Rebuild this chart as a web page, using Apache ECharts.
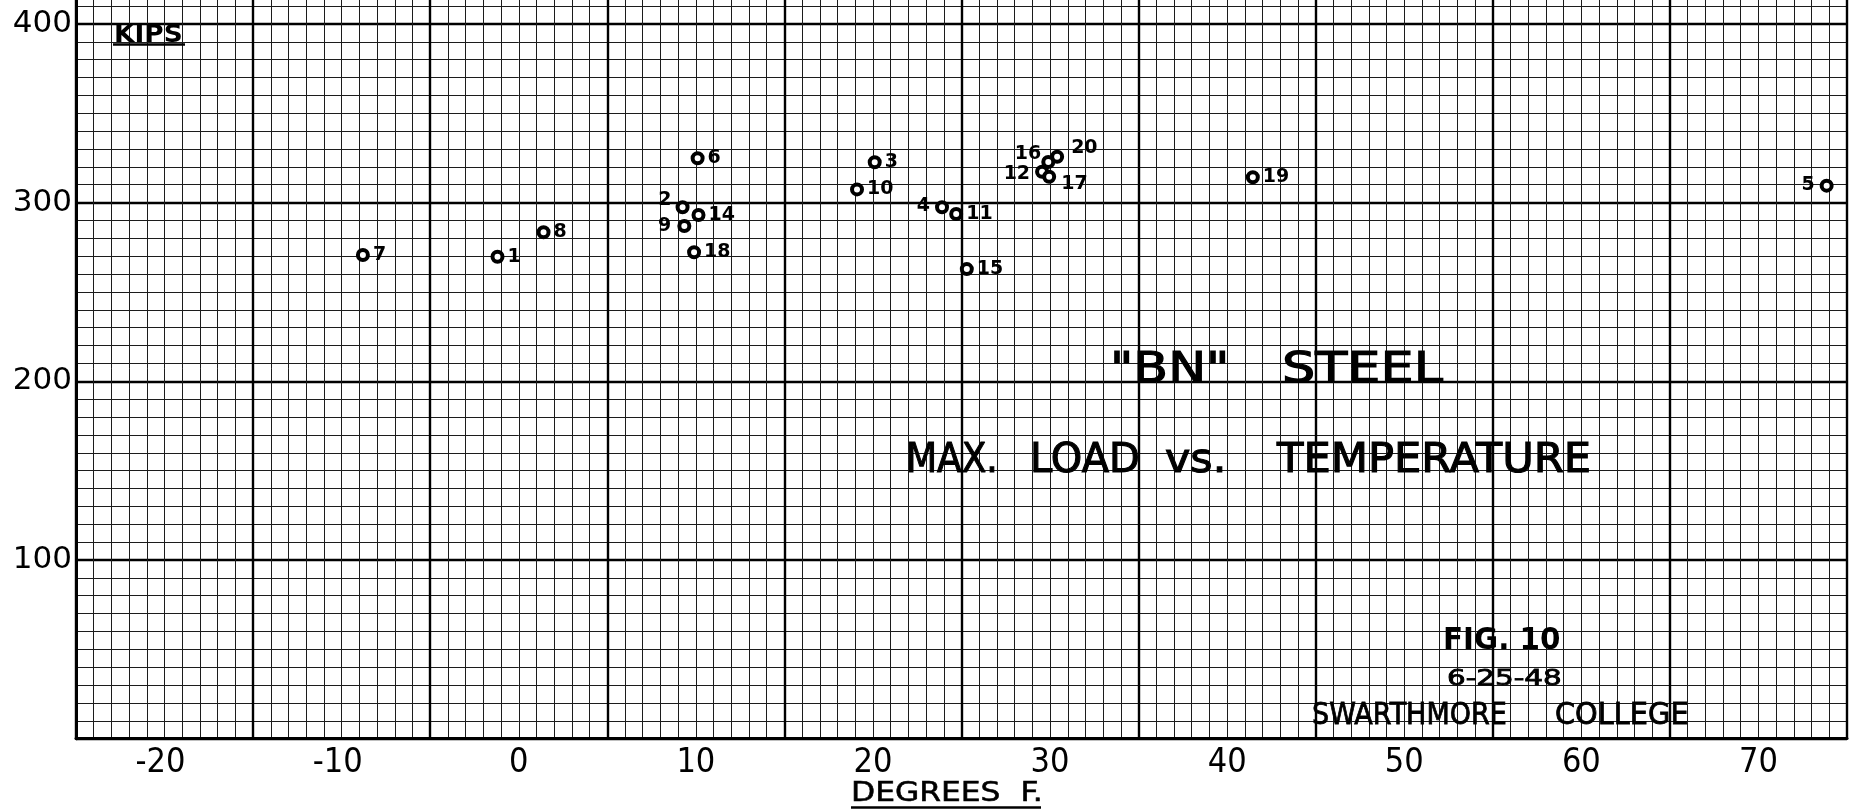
<!DOCTYPE html>
<html>
<head>
<meta charset="utf-8">
<script src="https://cdn.jsdelivr.net/npm/echarts@6/dist/echarts.min.js"></script>
<style>
  html, body { margin: 0; padding: 0; background: #fff; }
  #chart { width: 1849px; height: 810px; }
</style>
</head>
<body>
<div id="chart"></div>
<script>
// ---- data ----
const specimens    = ['7', '1', '8', '6', '2', '14', '9', '18', '3', '10', '4', '11', '15', '20', '16', '12', '17', '19', '5'];
const temperatures = [-8.8, -1.2, 1.4, 10.1, 9.25, 10.15, 9.35, 9.9, 20.1, 19.1, 23.9, 24.7, 25.3, 30.4, 29.9, 29.55, 29.95, 41.45, 73.85];
const maxLoads     = [270.7, 269.7, 283.4, 324.8, 297.4, 293.1, 286.9, 272.2, 322.6, 307.4, 297.4, 293.6, 262.8, 325.7, 322.7, 317.3, 314.5, 314.2, 309.5];

const xTickLabels = [-20, -10, 0, 10, 20, 30, 40, 50, 60, 70];
const yTickLabels = [100, 200, 300, 400];

// label placement per specimen (style only)
const labelPlacement = {
  '2':  { position: 'left',  offset: [-1, -7] },
  '9':  { position: 'left',  offset: [-3, 0] },
  '4':  { position: 'left',  offset: [-2, -1] },
  '5':  { position: 'left',  offset: [-2, -1] },
  '12': { position: 'left',  offset: [-2, 2] },
  '16': { position: 'left',  offset: [3, -8] },
  '20': { position: 'right', offset: [4, -9] },
  '17': { position: 'right', offset: [2, 7] }
};

const FONT = '"DejaVu Sans"';
const COND = '"DejaVu Sans Condensed", "DejaVu Sans"';

const X_MIN = -25, X_MAX = 75, Y_MIN = 0, Y_MAX = 414.5;

const chart = echarts.init(document.getElementById('chart'), null, { renderer: 'canvas' });

const points = specimens.map((s, i) => {
  const item = { name: s, value: [temperatures[i], maxLoads[i]] };
  if (labelPlacement[s]) item.label = Object.assign({}, labelPlacement[s]);
  return item;
});

const hidden = { axisLine: { show: false }, axisTick: { show: false }, axisLabel: { show: false } };

function txt(text, x, y, font, scaleX, heavy) {
  const style = { text: text, font: font, fill: '#000', align: 'left', verticalAlign: 'middle' };
  if (heavy) { style.stroke = '#000'; style.lineWidth = heavy; }
  return { type: 'text', x: x, y: y, scaleX: scaleX || 1, z: 100, style: style };
}
function ln(x1, y1, x2, y2, w) {
  return { type: 'line', z: 100, shape: { x1: x1, y1: y1, x2: x2, y2: y2 }, style: { stroke: '#000', lineWidth: w } };
}

chart.setOption({
  animation: false,
  backgroundColor: '#ffffff',
  grid: { left: 76, right: 2, top: -2, bottom: 71.3, containLabel: false, outerBoundsMode: 'none' },
  xAxis: [
    Object.assign({ type: 'value', position: 'bottom', min: X_MIN, max: X_MAX, interval: 1,
      splitLine: { show: true, lineStyle: { color: '#1c1c1c', width: 1 } } }, hidden),
    Object.assign({ type: 'value', position: 'bottom', min: X_MIN, max: X_MAX, interval: 10,
      splitLine: { show: true, lineStyle: { color: '#000', width: 2.4 } } }, hidden),
    {
      type: 'value', position: 'bottom', min: X_MIN, max: X_MAX, interval: 5,
      splitLine: { show: false },
      axisTick: { show: false },
      axisLine: { show: true, onZero: false, lineStyle: { color: '#000', width: 3 } },
      axisLabel: {
        show: true, interval: 0, margin: 7, color: '#000',
        fontFamily: COND, fontSize: 34,
        formatter: function (v) {
          if (xTickLabels.indexOf(v) < 0) return '';
          return v < 0 ? String(v) + '{p|}' : String(v);
        },
        rich: { p: { width: 8 } }
      }
    }
  ],
  yAxis: [
    Object.assign({ type: 'value', position: 'left', min: Y_MIN, max: Y_MAX, interval: 10,
      splitLine: { show: true, lineStyle: { color: '#1c1c1c', width: 1 } } }, hidden),
    {
      type: 'value', position: 'left', min: Y_MIN, max: Y_MAX, interval: 100,
      splitLine: { show: true, lineStyle: { color: '#000', width: 2.4 } },
      axisTick: { show: false },
      axisLine: { show: true, onZero: false, lineStyle: { color: '#000', width: 3 } },
      axisLabel: {
        show: true, margin: 4, color: '#000', fontFamily: FONT, fontSize: 31,
        formatter: function (v) { return yTickLabels.indexOf(v) >= 0 ? String(v) : ''; }
      }
    }
  ],
  series: [{
    type: 'scatter',
    xAxisIndex: 0, yAxisIndex: 0,
    symbol: 'circle', symbolSize: 10,
    itemStyle: { color: '#fff', borderColor: '#000', borderWidth: 4, opacity: 1 },
    label: {
      show: true, position: 'right', distance: 3, formatter: '{b}',
      color: '#000', fontFamily: FONT, fontWeight: 'bold', fontSize: 19
    },
    emphasis: { disabled: true },
    data: points,
    z: 5
  }],
  graphic: [
    txt('KIPS', 114, 35.5, 'bold 24px ' + FONT, 1.1),
    ln(113, 44.5, 185, 44.5, 2.5),
    txt('"BN"', 1110, 371, '43px ' + FONT, 1.18, 1.2),
    txt('STEEL', 1282, 371, '43px ' + FONT, 1.22, 1.2),
    txt('MAX.', 906, 462, '40px ' + FONT, 0.9, 1.1),
    txt('LOAD', 1030, 462, '40px ' + FONT, 1.0, 1.1),
    txt('vs.', 1165, 462, '40px ' + FONT, 1.07, 1.1),
    txt('TEMPERATURE', 1277, 462, '40px ' + FONT, 1.08, 1.1),
    txt('FIG. 10', 1443, 641, 'bold 30px ' + FONT, 0.98),
    txt('6-25-48', 1447, 680, '21px ' + FONT, 1.4, 0.8),
    txt('SWARTHMORE', 1312, 716, '30px ' + FONT, 0.9, 0.8),
    txt('COLLEGE', 1555, 716, '30px ' + FONT, 0.96, 0.8),
    txt('DEGREES  F.', 851, 794, '26px ' + COND, 1.34, 0.5),
    ln(851, 807.5, 1041, 807.5, 2.5)
  ]
});
</script>
</body>
</html>
